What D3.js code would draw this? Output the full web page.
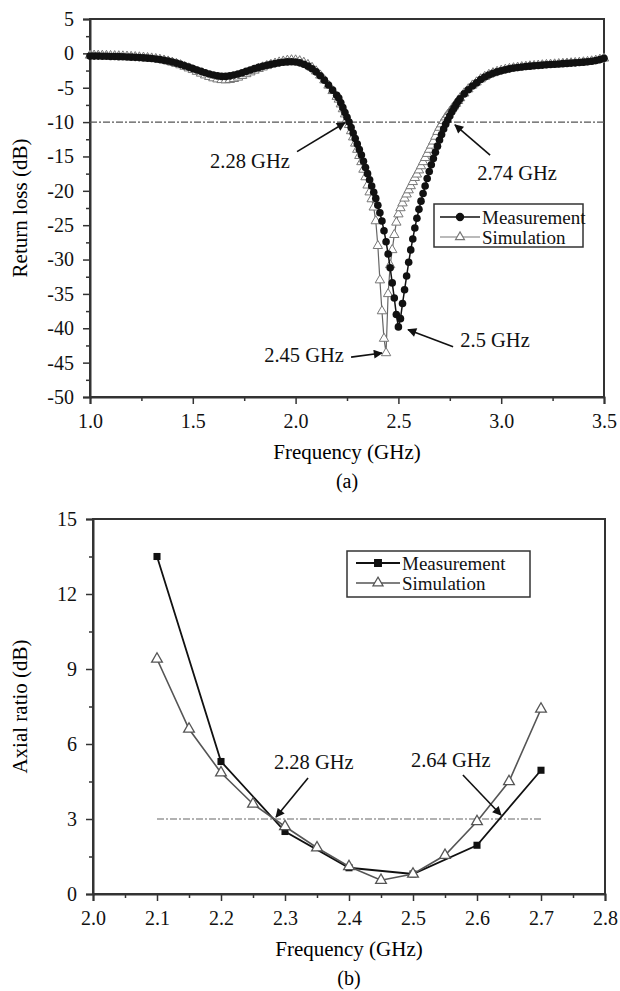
<!DOCTYPE html>
<html>
<head>
<meta charset="utf-8">
<script src="https://cdn.jsdelivr.net/npm/d3@7"></script>
<style>
  body { margin: 0; background: #fff; }
  svg { display: block; font-family: "Liberation Serif", "Times New Roman", serif; }
</style>
</head>
<body>
<div id="chart"></div>
<script>
// ---- panel (a): return loss ----
const measFreqA = [
  1.00,1.02,1.04,1.06,1.08,1.10,1.12,1.14,1.16,1.18,1.20,1.22,1.24,1.26,1.28,1.30,1.32,1.34,1.36,1.38,
  1.40,1.42,1.44,1.46,1.48,1.50,1.52,1.54,1.56,1.58,1.60,1.62,1.64,1.66,1.68,1.70,1.72,1.74,1.76,1.78,
  1.80,1.82,1.84,1.86,1.88,1.90,1.92,1.94,1.96,1.98,2.00,2.02,2.04,2.06,2.08,2.10,2.12,2.14,2.16,2.18,2.20,
  2.21,2.22,2.23,2.24,2.25,2.26,2.27,2.28,2.29,2.30,2.31,2.32,2.33,2.34,2.35,2.36,2.37,2.38,2.39,2.40,
  2.41,2.42,2.43,2.44,2.45,2.46,2.47,2.48,2.49,2.50,2.51,2.52,2.53,2.54,2.55,2.56,2.57,2.58,2.59,2.60,
  2.61,2.62,2.63,2.64,2.65,2.66,2.67,2.68,2.69,2.70,2.71,2.72,2.73,2.74,2.75,2.76,2.77,2.78,2.79,2.80,
  2.82,2.84,2.86,2.88,2.90,2.92,2.94,2.96,2.98,3.00,3.02,3.04,3.06,3.08,3.10,3.12,3.14,3.16,3.18,3.20,
  3.22,3.24,3.26,3.28,3.30,3.32,3.34,3.36,3.38,3.40,3.42,3.44,3.46,3.48,3.50
];
const measLoss = [
  -0.40,-0.40,-0.40,-0.42,-0.42,-0.45,-0.45,-0.48,-0.50,-0.52,-0.55,-0.58,-0.62,-0.66,-0.70,-0.75,-0.82,-0.90,-1.00,-1.12,
  -1.26,-1.42,-1.60,-1.80,-2.00,-2.20,-2.42,-2.62,-2.82,-3.00,-3.15,-3.28,-3.35,-3.35,-3.28,-3.15,-3.00,-2.82,-2.62,-2.42,
  -2.22,-2.04,-1.88,-1.74,-1.60,-1.48,-1.38,-1.30,-1.24,-1.22,-1.26,-1.38,-1.58,-1.86,-2.24,-2.70,-3.25,-3.90,-4.60,-5.35,-6.10,
  -6.50,-7.20,-7.90,-8.60,-9.30,-10.0,-10.8,-11.6,-12.4,-13.2,-14.0,-14.8,-15.7,-16.6,-17.5,-18.4,-19.3,-20.2,-21.1,-22.1,
  -23.2,-24.4,-25.8,-27.4,-29.2,-31.2,-33.4,-35.6,-38.0,-39.8,-38.6,-36.4,-34.4,-32.4,-30.4,-28.6,-27.0,-25.4,-24.0,-22.7,
  -21.5,-20.4,-19.3,-18.2,-17.2,-16.2,-15.3,-14.4,-13.5,-12.6,-11.8,-11.0,-10.3,-9.70,-9.10,-8.50,-8.00,-7.50,-7.00,-6.60,
  -5.90,-5.30,-4.75,-4.30,-3.80,-3.45,-3.15,-2.90,-2.70,-2.52,-2.38,-2.25,-2.14,-2.05,-1.98,-1.92,-1.86,-1.81,-1.76,-1.71,
  -1.66,-1.62,-1.58,-1.54,-1.50,-1.46,-1.42,-1.38,-1.34,-1.28,-1.22,-1.14,-1.04,-0.90,-0.72
];
const simLoss = [
  -0.30,-0.30,-0.32,-0.32,-0.34,-0.36,-0.38,-0.40,-0.42,-0.45,-0.48,-0.52,-0.56,-0.60,-0.66,-0.72,-0.80,-0.90,-1.02,-1.16,
  -1.32,-1.50,-1.70,-1.92,-2.16,-2.40,-2.66,-2.92,-3.18,-3.40,-3.60,-3.76,-3.86,-3.90,-3.84,-3.70,-3.50,-3.26,-3.00,-2.74,
  -2.48,-2.24,-2.02,-1.82,-1.64,-1.46,-1.30,-1.16,-1.04,-0.98,-1.00,-1.12,-1.34,-1.66,-2.08,-2.60,-3.20,-3.90,-4.66,-5.46,-6.30,
  -6.70,-7.40,-8.10,-8.85,-9.60,-10.4,-11.3,-12.2,-13.1,-14.0,-14.9,-15.8,-16.9,-18.0,-19.2,-20.2,-21.2,-22.4,-24.4,-28.0,
  -33.0,-37.5,-41.5,-43.6,-35.0,-30.8,-28.6,-26.4,-24.6,-23.4,-22.5,-21.8,-21.1,-20.5,-19.9,-19.3,-18.7,-18.1,-17.6,-17.0,
  -16.4,-15.8,-15.2,-14.6,-14.0,-13.4,-12.8,-12.1,-11.4,-10.8,-10.3,-9.80,-9.30,-8.90,-8.50,-8.10,-7.70,-7.30,-6.90,-6.50,
  -5.80,-5.20,-4.65,-4.20,-3.75,-3.40,-3.10,-2.86,-2.66,-2.50,-2.36,-2.24,-2.14,-2.05,-1.98,-1.92,-1.86,-1.81,-1.76,-1.71,
  -1.66,-1.62,-1.58,-1.54,-1.50,-1.46,-1.42,-1.38,-1.34,-1.28,-1.22,-1.14,-1.04,-0.90,-0.72
];
const ticksXA = [1.0, 1.5, 2.0, 2.5, 3.0, 3.5];
const ticksYA = [5, 0, -5, -10, -15, -20, -25, -30, -35, -40, -45, -50];

// ---- panel (b): axial ratio ----
const freqMeasB = [2.1, 2.2, 2.3, 2.4, 2.5, 2.6, 2.7];
const arMeas = [13.5, 5.3, 2.5, 1.05, 0.8, 1.95, 4.95];
const freqSimB = [2.1, 2.15, 2.2, 2.25, 2.3, 2.35, 2.4, 2.45, 2.5, 2.55, 2.6, 2.65, 2.7];
const arSim = [9.4, 6.6, 4.85, 3.6, 2.7, 1.85, 1.1, 0.55, 0.8, 1.55, 2.9, 4.5, 7.4];
const ticksXB = [2.0, 2.1, 2.2, 2.3, 2.4, 2.5, 2.6, 2.7, 2.8];
const ticksYB = [0, 3, 6, 9, 12, 15];

const W = 620, H = 991;
const svg = d3.select("#chart").append("svg").attr("width", W).attr("height", H);
svg.append("rect").attr("width", W).attr("height", H).attr("fill", "#fff");

const axisColor = "#333";

function drawFrame(g, x, y, cfg) {
    const [x0, x1] = x.range();
    const [y0, y1] = y.range(); // y0 bottom, y1 top

    // minor ticks first
    g.append("g")
        .attr("transform", "translate(0," + y0 + ")")
        .call(d3.axisBottom(x).tickValues(cfg.minorX).tickSize(4).tickFormat(""))
        .call(a => a.select(".domain").remove());
    g.append("g")
        .attr("transform", "translate(" + x0 + ",0)")
        .call(d3.axisLeft(y).tickValues(cfg.minorY).tickSize(4).tickFormat(""))
        .call(a => a.select(".domain").remove());

    const xa = g.append("g")
        .attr("transform", "translate(0," + y0 + ")")
        .call(d3.axisBottom(x).tickValues(cfg.ticksX).tickSize(7).tickFormat(d => d.toFixed(1)));
    xa.selectAll("text").attr("y", 24).attr("dy", "0.35em");

    g.append("g")
        .attr("transform", "translate(" + x0 + ",0)")
        .call(d3.axisLeft(y).tickValues(cfg.ticksY).tickSize(7).tickPadding(9).tickFormat(d => String(d)));

    g.selectAll(".tick line").attr("stroke", axisColor).attr("stroke-width", 1.5);
    g.selectAll(".domain").attr("stroke", axisColor).attr("stroke-width", 2);
    g.selectAll(".tick text").attr("font-size", 20).attr("fill", "#111")
        .attr("font-family", "Liberation Serif");

    // box
    g.append("rect")
        .attr("x", x0).attr("y", y1)
        .attr("width", x1 - x0).attr("height", y0 - y1)
        .attr("fill", "none").attr("stroke", axisColor).attr("stroke-width", 2);

    const cx = (x0 + x1) / 2;
    g.append("text").attr("x", cx).attr("y", y0 + 55).attr("dy", "0.35em")
        .attr("text-anchor", "middle").attr("font-size", 21).text("Frequency (GHz)");
    g.append("text").attr("x", cx).attr("y", y0 + 84).attr("dy", "0.35em")
        .attr("text-anchor", "middle").attr("font-size", 20).text(cfg.caption);
    g.append("text")
        .attr("transform", "translate(20," + ((y0 + y1) / 2) + ") rotate(-90)")
        .attr("dy", "0.35em")
        .attr("text-anchor", "middle").attr("font-size", 21).text(cfg.yTitle);
}

function addArrowDefs() {
    const defs = svg.append("defs");
    defs.append("marker")
        .attr("id", "arrowHead")
        .attr("viewBox", "0 0 10 10")
        .attr("refX", 9).attr("refY", 5)
        .attr("markerWidth", 10).attr("markerHeight", 9)
        .attr("markerUnits", "userSpaceOnUse")
        .attr("orient", "auto")
        .append("path").attr("d", "M0,0 L10,5 L0,10 z").attr("fill", "#111");
}
addArrowDefs();

function annotate(g, x, y, notes) {
    notes.forEach(n => {
        g.append("line")
            .attr("x1", x(n.from[0])).attr("y1", y(n.from[1]))
            .attr("x2", x(n.to[0])).attr("y2", y(n.to[1]))
            .attr("stroke", "#111").attr("stroke-width", 1.6)
            .attr("marker-end", "url(#arrowHead)");
        g.append("text")
            .attr("x", x(n.at[0])).attr("y", y(n.at[1])).attr("dy", "0.35em")
            .attr("text-anchor", n.anchor || "middle")
            .attr("font-size", 20.5).attr("fill", "#111").text(n.label);
    });
}

function legend(g, box, items) {
    g.append("rect")
        .attr("x", box.x).attr("y", box.y).attr("width", box.w).attr("height", box.h)
        .attr("fill", "#fff").attr("stroke", axisColor).attr("stroke-width", 1.5);
    items.forEach((it, i) => {
        const yy = box.y + box.row0 + i * box.dy;
        g.append("line")
            .attr("x1", box.x + box.l0).attr("x2", box.x + box.l1)
            .attr("y1", yy).attr("y2", yy)
            .attr("stroke", it.color).attr("stroke-width", it.width);
        g.append("path")
            .attr("transform", "translate(" + (box.x + (box.l0 + box.l1) / 2) + "," + yy + ")")
            .attr("d", d3.symbol(it.symbol, it.size)())
            .attr("fill", it.fill).attr("stroke", it.color).attr("stroke-width", 1.2);
        g.append("text")
            .attr("x", box.x + box.l1 + 2).attr("y", yy).attr("dy", "0.35em")
            .attr("font-size", 19).attr("fill", "#111").text(it.label);
    });
}

// ================= panel (a) =================
{
    const x = d3.scaleLinear().domain([1.0, 3.5]).range([90, 604]);
    const y = d3.scaleLinear().domain([-50, 5]).range([397, 19]);
    const g = svg.append("g").attr("class", "panelA");

    drawFrame(g, x, y, {
        ticksX: ticksXA, minorX: [1.25, 1.75, 2.25, 2.75, 3.25],
        ticksY: ticksYA, minorY: d3.range(-47.5, 5, 5),
        caption: "(a)", yTitle: "Return loss (dB)"
    });

    // -10 dB reference
    g.append("line")
        .attr("x1", x(1.0)).attr("x2", x(3.5)).attr("y1", y(-10)).attr("y2", y(-10))
        .attr("stroke", "#555").attr("stroke-width", 1.3).attr("stroke-dasharray", "7,2,2,2");

    const sim = measFreqA.map((f, i) => [f, simLoss[i]]);
    const meas = measFreqA.map((f, i) => [f, measLoss[i]]);
    const line = d3.line().x(d => x(d[0])).y(d => y(d[1]));

    g.append("path").datum(sim).attr("d", line)
        .attr("fill", "none").attr("stroke", "#666").attr("stroke-width", 1.2);
    g.selectAll(".simPt").data(sim).join("path")
        .attr("class", "simPt")
        .attr("transform", d => "translate(" + x(d[0]) + "," + y(d[1]) + ")")
        .attr("d", d3.symbol(d3.symbolTriangle, 38)())
        .attr("fill", "#fff").attr("stroke", "#777").attr("stroke-width", 1);

    g.append("path").datum(meas).attr("d", line)
        .attr("fill", "none").attr("stroke", "#111").attr("stroke-width", 1.5);
    g.selectAll(".measPt").data(meas).join("circle")
        .attr("class", "measPt")
        .attr("cx", d => x(d[0])).attr("cy", d => y(d[1])).attr("r", 3.8)
        .attr("fill", "#111");

    annotate(g, x, y, [
        {label: "2.28 GHz", at: [1.778, -15.6], from: [2.007, -14.3], to: [2.24, -10.1]},
        {label: "2.74 GHz", at: [3.077, -17.4], from: [2.946, -14.8], to: [2.775, -10.4]},
        {label: "2.5 GHz", at: [2.97, -41.7], from: [2.766, -42.7], to: [2.547, -40.2]},
        {label: "2.45 GHz", at: [2.235, -43.9], anchor: "end", from: [2.27, -44.2], to: [2.42, -43.6]}
    ]);

    legend(g, {x: 434, y: 204, w: 149, h: 43, row0: 13, dy: 20, l0: 6, l1: 46}, [
        {label: "Measurement", symbol: d3.symbolCircle, size: 40, fill: "#111", color: "#111", width: 1.5},
        {label: "Simulation", symbol: d3.symbolTriangle, size: 34, fill: "#fff", color: "#777", width: 1.2}
    ]);
}

// ================= panel (b) =================
{
    const x = d3.scaleLinear().domain([2.0, 2.8]).range([93, 605]);
    const y = d3.scaleLinear().domain([0, 15]).range([894, 519]);
    const g = svg.append("g").attr("class", "panelB");

    drawFrame(g, x, y, {
        ticksX: ticksXB, minorX: d3.range(2.05, 2.8, 0.1),
        ticksY: ticksYB, minorY: [1.5, 4.5, 7.5, 10.5, 13.5],
        caption: "(b)", yTitle: "Axial ratio (dB)"
    });

    // 3 dB reference
    g.append("line")
        .attr("x1", x(2.1)).attr("x2", x(2.7)).attr("y1", y(3)).attr("y2", y(3))
        .attr("stroke", "#999").attr("stroke-width", 1.3).attr("stroke-dasharray", "7,2,2,2");

    const meas = freqMeasB.map((f, i) => [f, arMeas[i]]);
    const sim = freqSimB.map((f, i) => [f, arSim[i]]);
    const line = d3.line().x(d => x(d[0])).y(d => y(d[1]));

    g.append("path").datum(meas).attr("d", line)
        .attr("fill", "none").attr("stroke", "#111").attr("stroke-width", 1.8);
    g.selectAll(".measPt").data(meas).join("path")
        .attr("class", "measPt")
        .attr("transform", d => "translate(" + x(d[0]) + "," + y(d[1]) + ")")
        .attr("d", d3.symbol(d3.symbolSquare, 50)())
        .attr("fill", "#111");

    g.append("path").datum(sim).attr("d", line)
        .attr("fill", "none").attr("stroke", "#555").attr("stroke-width", 1.6);
    g.selectAll(".simPt").data(sim).join("path")
        .attr("class", "simPt")
        .attr("transform", d => "translate(" + x(d[0]) + "," + y(d[1]) + ")")
        .attr("d", d3.symbol(d3.symbolTriangle, 50)())
        .attr("fill", "#fff").attr("stroke", "#555").attr("stroke-width", 1.3);

    annotate(g, x, y, [
        {label: "2.28 GHz", at: [2.345, 5.28], from: [2.336, 4.64], to: [2.286, 3.08]},
        {label: "2.64 GHz", at: [2.559, 5.36], from: [2.578, 4.76], to: [2.6375, 3.16]}
    ]);

    legend(g, {x: 347, y: 551, w: 183, h: 46, row0: 12, dy: 20, l0: 9, l1: 53}, [
        {label: "Measurement", symbol: d3.symbolSquare, size: 45, fill: "#111", color: "#111", width: 1.8},
        {label: "Simulation", symbol: d3.symbolTriangle, size: 45, fill: "#fff", color: "#555", width: 1.6}
    ]);
}
</script>
</body>
</html>
